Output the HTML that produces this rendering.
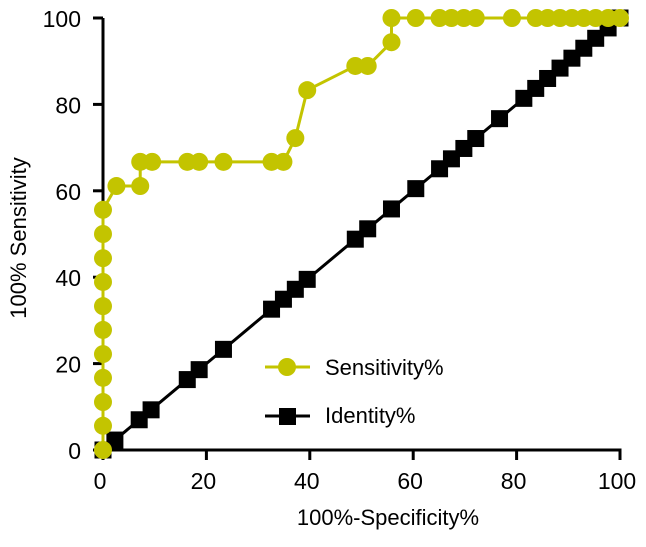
<!DOCTYPE html>
<html><head><meta charset="utf-8"><style>
body{margin:0;background:#fff;}
svg text{font-family:"Liberation Sans",sans-serif;fill:#000;}
</style></head><body>
<svg id="chart" width="646" height="542" viewBox="0 0 646 542" xmlns="http://www.w3.org/2000/svg">
<g id="axes"></g><g id="series"></g>
<g>
<g>
<line x1="265" y1="367" x2="310" y2="367" stroke="#c3c400" stroke-width="3"/>
<circle cx="287" cy="367" r="9" fill="#c3c400"/>
<text x="325" y="375" font-size="22">Sensitivity%</text></g>
<g>
<line x1="265" y1="416" x2="310" y2="416" stroke="#000" stroke-width="3"/>
<rect x="279" y="408" width="17" height="17" fill="#000"/>
<text x="325" y="423" font-size="22">Identity%</text></g>
</g>
<text x="388" y="525" font-size="22" text-anchor="middle">100%-Specificity%</text>
<text transform="translate(26,238) rotate(-90)" font-size="22" text-anchor="middle">100% Sensitivity</text>
</svg>
<script>
const sensX=[0,0,0,0,0,0,0,0,0,0,0,2.6,7.2,7.2,9.5,16.3,18.6,23.3,32.6,34.9,37.2,39.5,48.8,51.2,55.8,55.8,60.5,65.1,67.4,69.8,72.1,79.1,83.7,86,88.4,90.7,93,95.3,97.7,100];
const sensY=[0,5.6,11.1,16.7,22.2,27.8,33.3,38.9,44.4,50,55.6,61.1,61.1,66.7,66.7,66.7,66.7,66.7,66.7,66.7,72.2,83.3,88.9,88.9,94.4,100,100,100,100,100,100,100,100,100,100,100,100,100,100,100];
const idX=[0,2.3,7,9.3,16.3,18.6,23.3,32.6,34.9,37.2,39.5,48.8,51.2,55.8,60.5,65.1,67.4,69.8,72.1,76.7,81.4,83.7,86,88.4,90.7,93,95.3,97.7,100];
const idY=[0,2.3,7,9.3,16.3,18.6,23.3,32.6,34.9,37.2,39.5,48.8,51.2,55.8,60.5,65.1,67.4,69.8,72.1,76.7,81.4,83.7,86,88.4,90.7,93,95.3,97.7,100];
const xTicks=[0,20,40,60,80,100];
const yTicks=[0,20,40,60,80,100];
const X=v=>103+v*5.17, Y=v=>450-v*4.32;
const NS="http://www.w3.org/2000/svg";
function mk(t,a,p){const e=document.createElementNS(NS,t);for(const k in a)e.setAttribute(k,a[k]);p.appendChild(e);return e;}
const ax=document.getElementById('axes'), se=document.getElementById('series');
let l=mk('line',{x1:X(0),y1:Y(0),x2:X(100)+1.5,y2:Y(0),stroke:'#000','stroke-width':3},ax);


l=mk('line',{x1:X(0),y1:Y(0)+1.5,x2:X(0),y2:Y(100),stroke:'#000','stroke-width':3},ax);


xTicks.forEach(t=>{
 const tk=mk('line',{x1:X(t),y1:Y(0),x2:X(t),y2:Y(0)+10,stroke:'#000','stroke-width':3},ax);
 
 
 const tx=mk('text',{x:X(t)-3,y:489,'font-size':23,'text-anchor':'middle'},ax);tx.textContent=t;
 
 
});
yTicks.forEach(t=>{
 const tk=mk('line',{x1:X(0)-10,y1:Y(t),x2:X(0),y2:Y(t),stroke:'#000','stroke-width':3},ax);
 
 
 const tx=mk('text',{x:81,y:Y(t)+9,'font-size':23,'text-anchor':'end'},ax);tx.textContent=t;
 
 
});
let pl=mk('polyline',{points:idX.map((x,i)=>X(x)+','+Y(idY[i])).join(' '),fill:'none',stroke:'#000','stroke-width':3},se);


idX.forEach((x,i)=>{const r=mk('rect',{x:X(x)-8.5,y:Y(idY[i])-8.5,width:17,height:17,fill:'#000'},se);
 
 });
pl=mk('polyline',{points:sensX.map((x,i)=>X(x)+','+Y(sensY[i])).join(' '),fill:'none',stroke:'#c3c400','stroke-width':3},se);


sensX.forEach((x,i)=>{const c=mk('circle',{cx:X(x),cy:Y(sensY[i]),r:9,fill:'#c3c400'},se);
 
 });
</script>
</body></html>
